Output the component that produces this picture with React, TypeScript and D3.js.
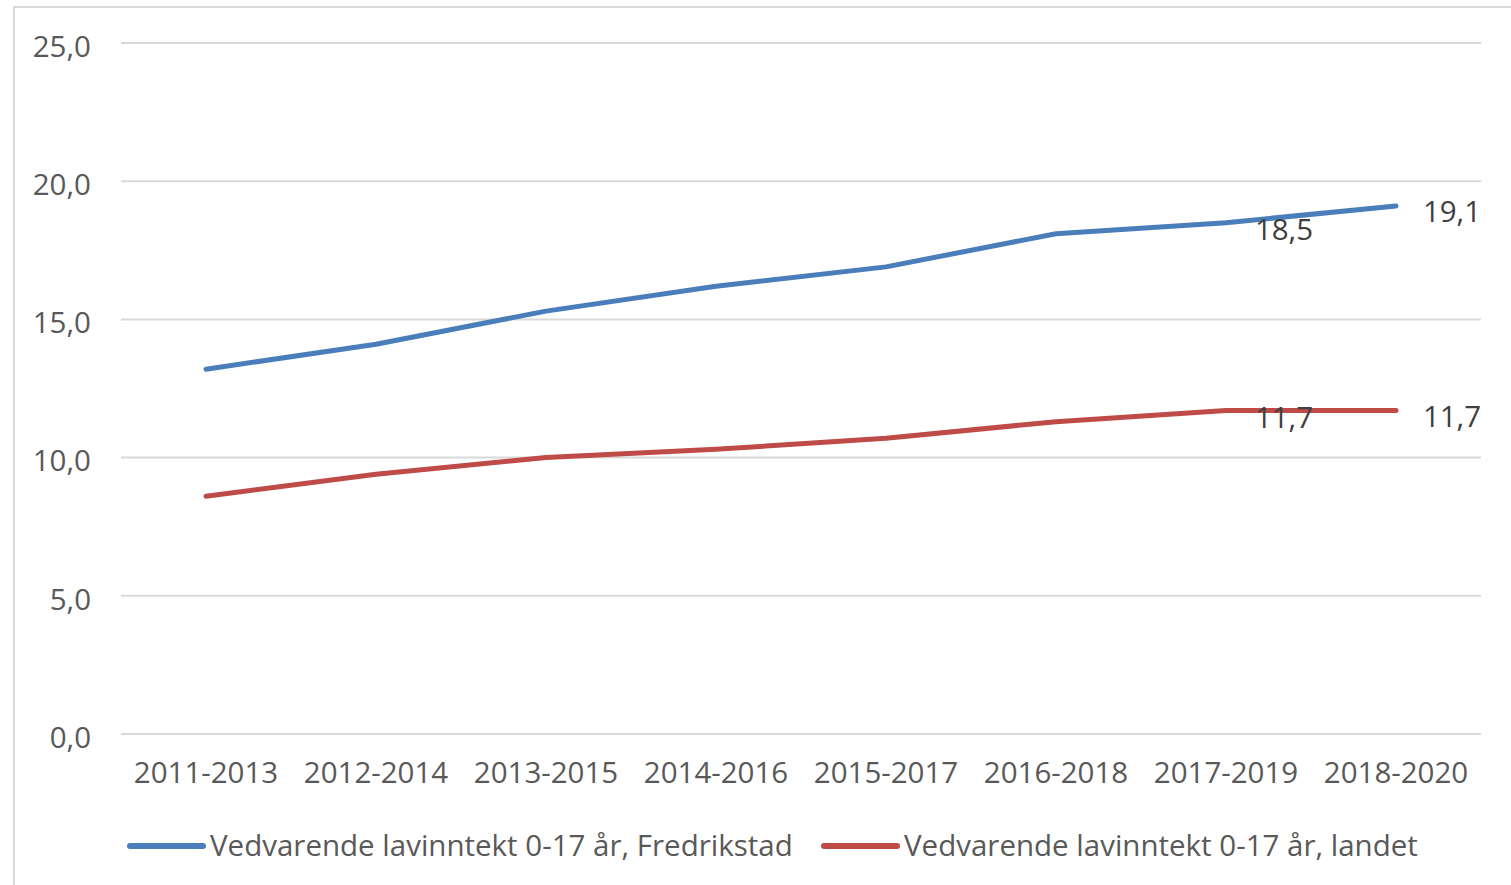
import React from "react";
import * as d3 from "d3";

const categories = ["2011-2013", "2012-2014", "2013-2015", "2014-2016", "2015-2017", "2016-2018", "2017-2019", "2018-2020"];
const fredrikstad = [13.2, 14.1, 15.3, 16.2, 16.9, 18.1, 18.5, 19.1];
const landet = [8.6, 9.4, 10.0, 10.3, 10.7, 11.3, 11.7, 11.7];
const yTicks = [0, 5, 10, 15, 20, 25];
const seriesNames = ["Vedvarende lavinntekt 0-17 år, Fredrikstad", "Vedvarende lavinntekt 0-17 år, landet"];
const labelledIdx = [6, 7];

const W = 1511, H = 885;
const FONT = "'Open Sans', sans-serif";
const TXT = "#595959";
const FS = 29.5;

export default function App() {
  const x = d3.scaleBand<string>().domain(categories).range([121, 1481]);
  const y = d3.scaleLinear().domain([0, 25]).range([734, 43]);
  const cx = (c: string) => (x(c) as number) + x.bandwidth() / 2;
  const line = d3.line<number>().x((_, i) => cx(categories[i])).y((v) => y(v));
  const fmt = (v: number) => v.toFixed(1).replace(".", ",");
  const series = [
    { name: seriesNames[0], data: fredrikstad, color: "#4A7EBB" },
    { name: seriesNames[1], data: landet, color: "#BE4B48" },
  ];
  const legendX = [130, 824];
  return (
    <svg width={W} height={H} style={{ position: "absolute", left: 0, top: 0, background: "#fff" }}>
      <rect x={14} y={7} width={W + 20} height={H + 20} fill="#fff" stroke="#d9d9d9" strokeWidth={2} />
      {yTicks.map((t) => (
        <g key={t}>
          <line x1={121} x2={1481} y1={y(t)} y2={y(t)} stroke="#d9d9d9" strokeWidth={2} />
          <text x={91} y={y(t) + 6} textAnchor="end" dominantBaseline="middle" fontFamily={FONT} fontSize={FS} fill={TXT}>
            {fmt(t)}
          </text>
        </g>
      ))}
      {categories.map((c) => (
        <text key={c} x={cx(c)} y={775} textAnchor="middle" dominantBaseline="middle" fontFamily={FONT} fontSize={FS} fill={TXT}>
          {c}
        </text>
      ))}
      {series.map((s) => (
        <path key={s.name} d={line(s.data) as string} fill="none" stroke={s.color} strokeWidth={5} strokeLinecap="round" strokeLinejoin="round" />
      ))}
      {series.map((s) =>
        labelledIdx.map((i) => (
          <text
            key={s.name + i}
            x={cx(categories[i]) + (i === 7 ? 56 : 58)}
            y={y(s.data[i]) + (i === 7 ? 8 : 9)}
            textAnchor="middle"
            dominantBaseline="middle"
            fontFamily={FONT}
            fontSize={FS}
            fill="#404040"
          >
            {fmt(s.data[i])}
          </text>
        ))
      )}
      {series.map((s, k) => (
        <g key={"lg" + k}>
          <line x1={legendX[k]} x2={legendX[k] + 73} y1={846} y2={846} stroke={s.color} strokeWidth={6} strokeLinecap="round" />
          <text x={legendX[k] + 80} y={848} dominantBaseline="middle" fontFamily={FONT} fontSize={FS} fill={TXT}>
            {s.name}
          </text>
        </g>
      ))}
    </svg>
  );
}
